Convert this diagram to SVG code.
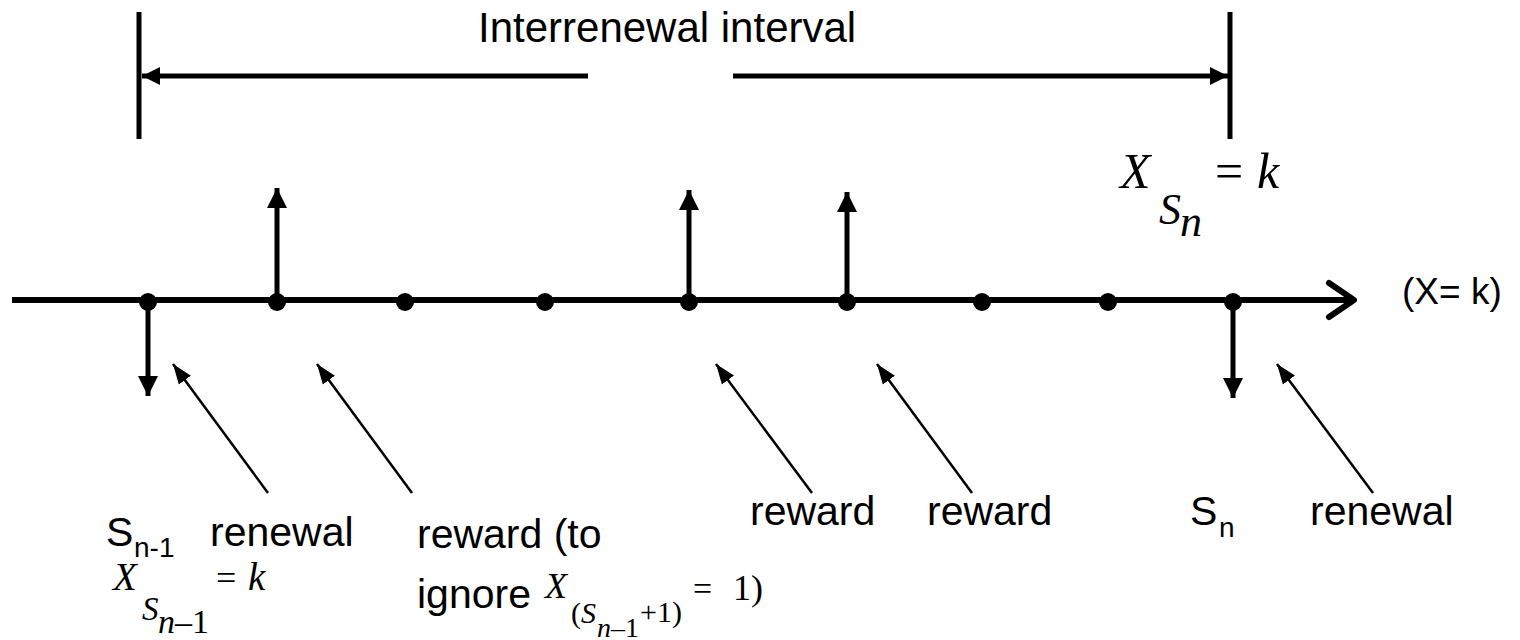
<svg xmlns="http://www.w3.org/2000/svg" width="1520" height="640" viewBox="0 0 1520 640">
<style>
.thick{stroke:#000;stroke-width:5;fill:none}
.axis{stroke:#000;stroke-width:6;fill:none}
.thin{stroke:#000;stroke-width:2.5;fill:none}
.lbl{font-family:"Liberation Sans",Arial,sans-serif;font-size:41px;fill:#000}
.sub{font-family:"Liberation Sans",Arial,sans-serif;font-size:28px;fill:#000}
.m{font-family:"Liberation Serif","Times New Roman",serif;fill:#000}
.i{font-style:italic}
.dot{fill:#000}
</style>
<defs>
<marker id="ah" markerUnits="userSpaceOnUse" markerWidth="20" markerHeight="20" refX="18" refY="9" orient="auto" viewBox="0 0 18 18">
<path d="M0,0 L18,9 L0,18 Z" fill="#000"/>
</marker>
<marker id="ahi" markerUnits="userSpaceOnUse" markerWidth="18" markerHeight="18" refX="16" refY="8" orient="auto" viewBox="0 0 16 16">
<path d="M0,0 L16,8 L0,16 Z" fill="#000"/>
</marker>
<marker id="aht" markerUnits="userSpaceOnUse" markerWidth="20" markerHeight="16" refX="20" refY="7.5" orient="auto" viewBox="0 0 20 15">
<path d="M0,0 L20,7.5 L0,15 Z" fill="#000"/>
</marker>
</defs>

<g id="interval">
<line class="thick" x1="139" y1="12" x2="139" y2="139"/>
<line class="thick" x1="1230" y1="12" x2="1230" y2="139"/>
<line class="thick" x1="588" y1="76" x2="142" y2="76" marker-end="url(#ahi)"/>
<line class="thick" x1="733" y1="76" x2="1228" y2="76" marker-end="url(#ahi)"/>
<text class="lbl" x="478" y="42" style="font-size:42px">Interrenewal interval</text>
</g>

<g id="axis">
<line class="axis" x1="12" y1="300" x2="1353" y2="300"/>
<polyline class="axis" points="1329,283 1354,300 1329,317" stroke-linecap="round" stroke-linejoin="round"/>
<text class="lbl" x="1402" y="304" style="font-size:37px">(X= k)</text>
</g>

<g id="connectors">
<line class="thick" x1="277" y1="300" x2="277" y2="188" marker-end="url(#ah)"/>
<line class="thick" x1="689" y1="300" x2="689" y2="190" marker-end="url(#ah)"/>
<line class="thick" x1="847" y1="300" x2="847" y2="192" marker-end="url(#ah)"/>
<line class="thick" x1="148" y1="300" x2="148" y2="396" marker-end="url(#ah)"/>
<line class="thick" x1="1233" y1="300" x2="1233" y2="398" marker-end="url(#ah)"/>
<line class="thin" x1="268" y1="493" x2="173" y2="364" marker-end="url(#aht)"/>
<line class="thin" x1="412" y1="493" x2="317" y2="364" marker-end="url(#aht)"/>
<line class="thin" x1="812" y1="493" x2="716" y2="364" marker-end="url(#aht)"/>
<line class="thin" x1="972" y1="493" x2="877" y2="364" marker-end="url(#aht)"/>
<line class="thin" x1="1373" y1="493" x2="1277" y2="364" marker-end="url(#aht)"/>
</g>

<g id="points">
<circle class="dot" cx="148" cy="302" r="9"/>
<circle class="dot" cx="277" cy="302" r="9"/>
<circle class="dot" cx="405" cy="302" r="9"/>
<circle class="dot" cx="545" cy="302" r="9"/>
<circle class="dot" cx="689" cy="302" r="9"/>
<circle class="dot" cx="847" cy="302" r="9"/>
<circle class="dot" cx="982" cy="302" r="9"/>
<circle class="dot" cx="1108" cy="302" r="9"/>
<circle class="dot" cx="1233" cy="302" r="9"/>
</g>

<g id="xsn">
<text class="m i" x="1120" y="188" font-size="50">X</text>
<text class="m i" x="1159" y="224" font-size="44">S</text>
<text class="m i" x="1180" y="236" font-size="44">n</text>
<text class="m" x="1215" y="188" font-size="50">=</text>
<text class="m i" x="1257" y="188" font-size="50">k</text>
</g>

<g id="sn1">
<text class="lbl" x="106" y="546">S</text>
<text class="sub" x="134" y="557">n-1</text>
<text class="lbl" x="210" y="546">renewal</text>
<text class="m i" x="113" y="590" font-size="39">X</text>
<text class="m i" x="142" y="620" font-size="33">S</text>
<text class="m" x="158" y="633" font-size="34"><tspan class="i">n</tspan>–1</text>
<text class="m" x="216" y="590" font-size="36">=</text>
<text class="m i" x="248" y="590" font-size="39">k</text>
</g>

<g id="reward1">
<text class="lbl" x="417" y="548">reward (to</text>
<text class="lbl" x="417" y="608">ignore</text>
<text class="m i" x="545" y="598" font-size="36">X</text>
<text class="m" x="571" y="623" font-size="30">(<tspan class="i">S</tspan></text>
<text class="m" x="597" y="637" font-size="28"><tspan class="i">n</tspan>–1</text>
<text class="m" x="640" y="622" font-size="30">+1)</text>
<text class="m" x="693" y="600" font-size="34">=</text>
<text class="m" x="733" y="600" font-size="36">1)</text>
</g>

<g id="reward2"><text class="lbl" x="750" y="525">reward</text></g>
<g id="reward3"><text class="lbl" x="927" y="525">reward</text></g>
<g id="sn">
<text class="lbl" x="1190" y="525">S</text>
<text class="sub" x="1219" y="537">n</text>
</g>
<g id="renewal2"><text class="lbl" x="1310" y="525">renewal</text></g>
</svg>
